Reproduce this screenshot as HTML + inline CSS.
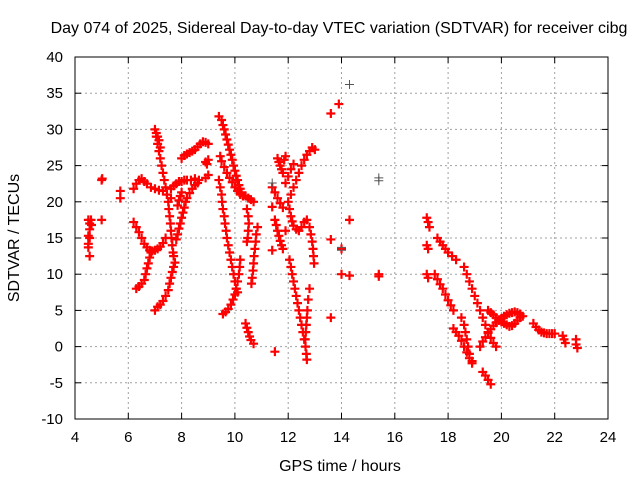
<!DOCTYPE html>
<html><head><meta charset="utf-8"><style>
body{margin:0;background:#fff}
svg text{font-family:"Liberation Sans",sans-serif;font-size:15px;fill:#000}
</style></head><body>
<svg id="chart" width="640" height="480" xmlns="http://www.w3.org/2000/svg">
<text x="339" y="33" text-anchor="middle" style="font-size:16px">Day 074 of 2025, Sidereal Day-to-day VTEC variation (SDTVAR) for receiver cibg</text>
<text x="340" y="471" text-anchor="middle" style="font-size:16px">GPS time / hours</text>
<text transform="translate(19,238) rotate(-90)" text-anchor="middle" style="font-size:16px">SDTVAR / TECUs</text>
<g id="grid"></g><g id="ticks"></g><g id="marks"></g>
<rect x="75" y="57" width="533" height="362" fill="none" stroke="#000" stroke-width="1"/>
</svg>
<script>
const xTicks=[4,6,8,10,12,14,16,18,20,22,24];
const yTicks=[-10,-5,0,5,10,15,20,25,30,35,40];
const redSeries=[
[[4.5,17.5],[4.55,17],[4.6,17.5],[4.62,16.8],[4.55,16.2],[4.5,15.3],[4.55,15],[4.5,14.2],[4.5,13.7],[4.55,12.5]],
[[5,23],[5.02,23.2],[5,17.5],[5.7,21.5],[5.7,20.5]],
[[6.2,21.8],[6.3,22.5],[6.4,23],[6.5,23.2],[6.6,22.8],[6.7,22.5],[6.85,22],[7,21.8],[7.15,21.6],[7.3,21.5],[7.45,21],[7.6,20.5]],
[[6.2,17.2],[6.3,16.5],[6.4,15.8],[6.5,15],[6.6,14.2],[6.7,13.7],[6.8,13.3],[6.9,13.2],[7.0,13.3],[7.1,13.5],[7.2,13.8],[7.3,14.3],[7.4,15]],
[[7.0,30],[7.05,29],[7.1,28],[7.15,27],[7.2,26],[7.25,25],[7.3,24],[7.35,23],[7.4,22],[7.45,21],[7.5,20],[7.52,19],[7.55,18],[7.58,17],[7.6,16],[7.62,15],[7.65,14],[7.68,13],[7.7,12.5]],
[[7.05,29.5],[7.1,29],[7.15,28.5],[7.2,27.5]],
[[6.3,8],[6.4,8.3],[6.5,8.7],[6.6,9.2],[6.65,10],[6.7,10.8],[6.75,11.5],[6.8,12.3],[6.85,13]],
[[7.0,5],[7.1,5.5],[7.2,5.8],[7.3,6.3],[7.4,7],[7.5,7.8],[7.55,8.7],[7.6,9.5],[7.65,10.3],[7.7,11],[7.75,11.6]],
[[7.6,21.8],[7.7,22.2],[7.8,22.5],[7.9,22.8],[8.0,22.8],[8.1,23],[8.2,23],[8.35,23],[8.5,23.2],[8.65,23]],
[[7.8,14.8],[7.85,15.5],[7.9,16.3],[7.95,17],[8.0,17.8],[8.05,18.5],[8.1,19.2],[8.15,20],[8.2,20.5],[8.3,21.2],[8.4,21.8],[8.5,22.3],[8.6,22.6]],
[[7.85,19.5],[7.9,20.2],[7.95,20.8],[8.0,21.3]],
[[8.0,26],[8.1,26.4],[8.2,26.6],[8.3,26.8],[8.4,27],[8.5,27.2],[8.6,27.6],[8.7,28],[8.8,28.3],[8.9,28.2],[9.0,28]],
[[8.9,25.5],[9.0,25.8],[8.95,25.2],[8.9,23.3],[9.0,23.7]],
[[9.4,31.8],[9.5,31.3],[9.55,30.6],[9.6,30],[9.65,29.3],[9.7,28.6],[9.75,27.9],[9.8,27.2],[9.85,26.5],[9.9,25.8],[9.95,25],[10.0,24.3],[10.05,23.6],[10.1,23],[10.15,22.3],[10.2,21.8],[10.25,21.3]],
[[9.45,26.3],[9.5,25.6],[9.6,24.8],[9.7,24],[9.8,23.3],[9.9,22.7],[10.0,22],[10.1,21.5],[10.2,21.2],[10.3,20.8]],
[[9.4,23],[9.45,22],[9.5,21],[9.52,20],[9.55,19],[9.6,18],[9.63,17],[9.67,16],[9.7,15],[9.75,14],[9.8,13],[9.85,12],[9.9,11],[9.95,10],[10.0,9],[10.05,8],[10.1,7.5]],
[[10.2,12],[10.18,11],[10.15,10],[10.1,9],[10.05,8],[10.0,7.2],[9.93,6.5],[9.85,5.8],[9.75,5.2],[9.65,4.8],[9.55,4.5]],
[[10.4,20.8],[10.5,20.5],[10.6,20.3],[10.7,20],[10.45,19],[10.5,18],[10.52,17],[10.5,16],[10.48,15],[10.45,14.5]],
[[10.85,16.5],[10.8,15.5],[10.78,14.5],[10.75,13.5],[10.72,12.5],[10.7,11.5],[10.68,10.5],[10.65,9.5],[10.62,8.7]],
[[10.4,3.2],[10.45,2.6],[10.5,2],[10.55,1.4],[10.6,0.9],[10.7,0.4]],
[[11.5,17.5],[11.55,16.8],[11.6,16],[11.65,15.3],[11.7,14.6],[11.75,14],[11.8,13.5]],
[[11.6,26],[11.65,25.5],[11.7,25],[11.75,24.5],[11.8,24],[11.9,26.3],[11.85,25.8]],
[[11.4,22],[11.5,21.3],[11.6,20.5],[11.7,19.8],[11.8,19.2]],
[[12.0,20],[12.05,19],[12.1,18],[12.15,17.3],[12.2,16.7],[12.3,16.2],[12.4,16],[12.5,16.5],[12.6,17.2],[12.7,17.5],[12.8,16.5],[12.85,15.5],[12.9,14.5],[12.93,13.5],[12.95,12.5],[12.97,11.5]],
[[12.1,21],[12.2,22],[12.3,23],[12.4,24],[12.5,25],[12.6,25.8],[12.7,26.5],[12.8,27],[12.9,27.5],[13.0,27.2]],
[[11.9,22.6],[12.0,23.5],[12.1,24.5],[12.2,25.2]],
[[12.05,12],[12.1,11],[12.15,10],[12.2,9],[12.25,8],[12.3,7],[12.35,6],[12.4,5],[12.45,4],[12.5,3],[12.55,2],[12.6,1],[12.65,0],[12.68,-1],[12.7,-1.8]],
[[12.8,8],[12.75,6.5],[12.72,5],[12.7,4],[12.68,3],[12.66,2],[12.64,1]],
[[17.2,17.8],[17.25,17.2],[17.3,16.5],[17.2,14],[17.25,13.5],[17.2,10],[17.25,9.5]],
[[17.6,15],[17.7,14.5],[17.8,14],[17.9,13.5],[18.0,13],[18.15,12.5],[18.3,12]],
[[17.5,10],[17.6,9.3],[17.7,8.6],[17.8,8],[17.9,7.2],[18.0,6.4],[18.1,5.7],[18.2,5]],
[[18.6,11],[18.7,10],[18.8,9],[18.9,8],[19.0,7],[19.1,6],[19.2,5],[19.3,4],[19.4,3],[19.5,2],[19.6,1.2],[19.7,0.5],[19.8,0]],
[[18.5,4],[18.6,3],[18.65,2],[18.7,1],[18.75,0],[18.8,-1],[18.9,-2]],
[[18.2,2.5],[18.3,2],[18.4,1.5],[18.5,0.8],[18.6,0],[18.7,-0.8],[18.8,-1.6],[18.9,-2.3]],
[[19.3,-3.5],[19.4,-4],[19.5,-4.6],[19.6,-5.2]],
[[19.2,0],[19.3,0.7],[19.4,1.3],[19.5,1.9],[19.6,2.4],[19.7,2.9],[19.8,3.3],[19.9,3.6],[20.0,3.9],[20.1,4.2],[20.2,4.4],[20.3,4.6],[20.4,4.7],[20.5,4.8],[20.6,4.7],[20.7,4.5]],
[[19.5,5],[19.6,4.7],[19.7,4.4],[19.8,4],[19.9,3.7],[20.0,3.4],[20.1,3.2],[20.2,3],[20.3,2.8],[20.4,2.9],[20.5,3.2],[20.6,3.6],[20.7,4],[20.8,4.2]],
[[21.2,3.2],[21.3,2.7],[21.4,2.3],[21.5,2],[21.6,1.9],[21.7,1.8],[21.8,1.8],[21.9,1.8],[22.0,1.8]],
[[22.3,1.5],[22.35,1],[22.4,0.5],[22.8,1],[22.8,0.3],[22.85,-0.2]],
[[10.2,21],[11.5,-0.7],[11.4,13.3],[11.4,19.3],[13.6,32.2],[13.9,33.5],[13.6,14.8],[13.6,4],[14,10],[14.3,17.5],[14.3,9.8],[15.4,10],[15.4,9.7],[14,13.5],[11.9,16]]
];
const graySeries=[[14.3,36.2],[11.4,22.6],[15.4,23.3],[15.4,22.9],[14,13.7],[14,13.3]];
const L=75,R=608,T=57,B=419;
const xs=h=>L+(h-4)/20*(R-L);
const ys=v=>B-(v+10)/50*(B-T);
const NS="http://www.w3.org/2000/svg";
const grid=document.getElementById('grid'),ticks=document.getElementById('ticks'),marks=document.getElementById('marks');
function mk(tag,attrs,parent){const e=document.createElementNS(NS,tag);for(const k in attrs)e.setAttribute(k,attrs[k]);parent.appendChild(e);return e;}
xTicks.forEach(t=>{const x=xs(t);
 if(t>4&&t<24){const g=mk('line',{x1:x,x2:x,y1:T,y2:B,stroke:'#a0a0a0','stroke-dasharray':'2,3'},grid);
 
 }
 mk('line',{x1:x,x2:x,y1:B,y2:B-6,stroke:'#000'},ticks);mk('line',{x1:x,x2:x,y1:T,y2:T+6,stroke:'#000'},ticks);
 const tx=mk('text',{x:x,y:B+23,'text-anchor':'middle'},ticks);tx.textContent=t;
 
 
});
yTicks.forEach(t=>{const y=ys(t);
 if(t>-10&&t<40){const g=mk('line',{x1:L,x2:R,y1:y,y2:y,stroke:'#a0a0a0','stroke-dasharray':'2,3'},grid);
 
 }
 mk('line',{x1:L,x2:L+6,y1:y,y2:y,stroke:'#000'},ticks);mk('line',{x1:R,x2:R-6,y1:y,y2:y,stroke:'#000'},ticks);
 const tx=mk('text',{x:L-12,y:y+5,'text-anchor':'end'},ticks);tx.textContent=t;
 
 
});
function plus(h,v,color,w){const x=xs(h),y=ys(v);
 const p=mk('path',{d:`M${x-4.5},${y}H${x+4.5}M${x},${y-4.5}V${y+4.5}`,stroke:color,'stroke-width':w,fill:'none'},marks);
 
 }
redSeries.forEach(seg=>seg.forEach(([h,v])=>plus(h,v,'#ff0000',2.2)));
graySeries.forEach(([h,v])=>plus(h,v,'#555',1));
</script>
</body></html>
